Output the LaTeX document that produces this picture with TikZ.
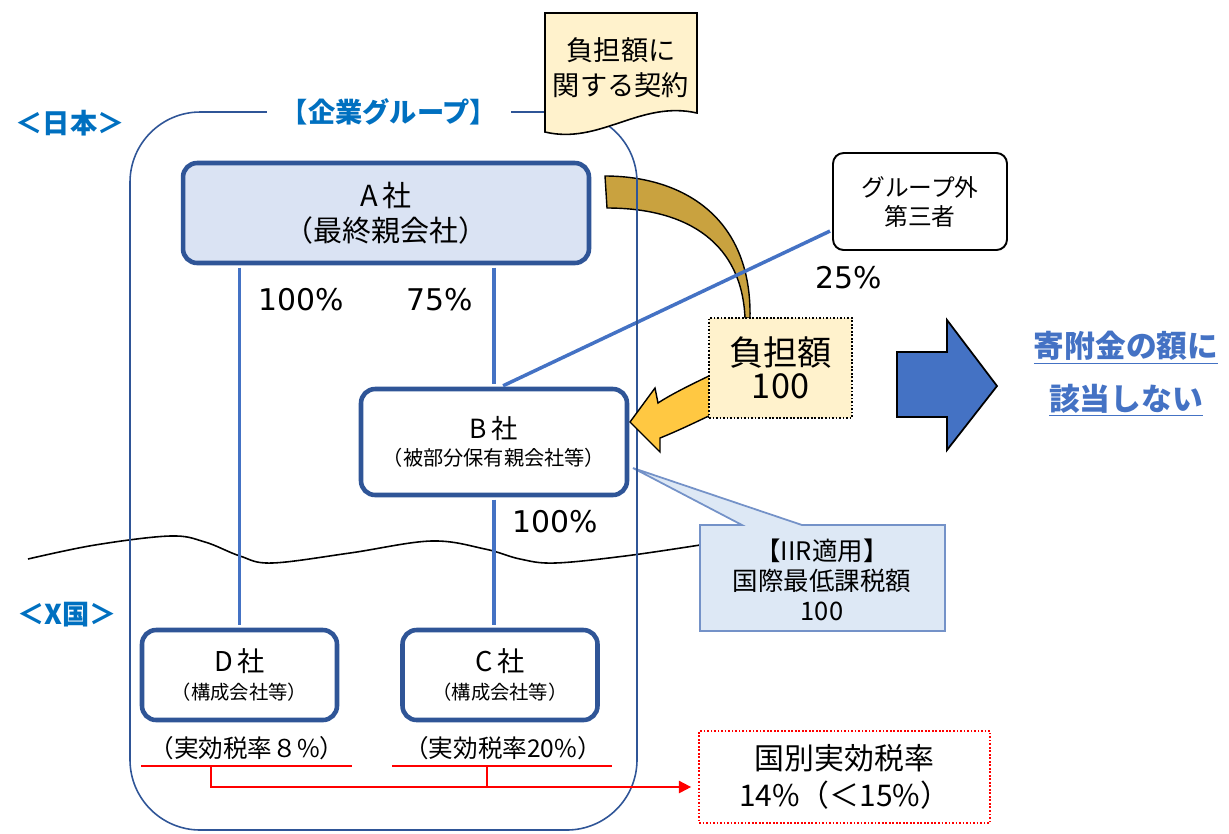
\documentclass[tikz,border=0pt]{standalone}
\usepackage{fontspec}
\setmainfont{Noto Sans CJK JP}
\newfontfamily\latinfont{DejaVu Sans}
\usetikzlibrary{arrows.meta}
\usepackage{xcolor}
\definecolor{boxblue}{RGB}{47,85,151}
\definecolor{lineblue}{RGB}{68,114,196}
\definecolor{headblue}{RGB}{0,112,192}
\definecolor{paleblue}{RGB}{218,227,243}
\definecolor{calloutblue}{RGB}{221,232,245}
\definecolor{calloutedge}{RGB}{116,146,200}
\definecolor{paleyellow}{RGB}{255,242,204}
\definecolor{gold}{RGB}{201,162,63}
\definecolor{sun}{RGB}{255,200,66}

\begin{document}
\begin{tikzpicture}[x=0.02cm,y=-0.02cm,>=Stealth,
	co/.style={draw=boxblue,line width=2.6pt,rounded corners=8pt,fill=white,inner sep=0pt,align=center},
	own/.style={draw=lineblue,line width=2pt,shorten <=1.3pt,shorten >=1.3pt},
	pct/.style={font=\latinfont\fontsize{17}{20}\selectfont},
	region/.style={text=headblue,font=\fontsize{15.5}{18}\selectfont\bfseries},
	redln/.style={draw=red,line width=1.1pt}]
	\useasboundingbox (0,0) rectangle (1229,833);
	% border between Japan and country X
	\draw[line width=0.9pt] plot[smooth,tension=0.6] coordinates {(28,559) (95,545) (170,536) (205,542) (240,556) (272,563) (350,553) (431,541) (485,549) (520,559) (555,563) (625,556) (700,545)};

	\node[co,fill=paleblue,minimum width=8.12cm,minimum height=2cm,font=\fontsize{16.5}{20}\selectfont] (A) at (386,213) {A\,社\\（最終親会社）};
	\node[co,minimum width=5.32cm,minimum height=2.12cm,font=\fontsize{15}{15.5}\selectfont] (B) at (494,442) {B\,社\\{\fontsize{11.5}{15}\selectfont（被部分保有親会社等）}};
	\foreach \n/\c/\p/\x in {D/239.5/８/247,C/500/20/503} {
		\node[co,minimum width=3.9cm,minimum height=1.8cm,font=\fontsize{15.5}{16}\selectfont] (\n) at (\c,675) {{\n}\,社\\{\fontsize{11}{15}\selectfont（構成会社等）}};
		\node[font=\fontsize{14}{16}\selectfont] (r\n) at (\x,748) {（実効税率\p\%）};
	};
	\draw[own] (D.north |- A.south) -- (D.north);
	\draw[own] (B.north |- A.south) -- (B.north);
	\draw[own] (B.south) -- (B.south |- C.north);

	\node[draw,line width=1.1pt,rounded corners=6pt,inner sep=0pt,align=center,minimum width=3.48cm,minimum height=1.94cm,
		font=\fontsize{13.5}{16.5}\selectfont] (out) at (920,201.5) {グループ外\\第三者};

	% payment arrows
	\draw[fill=gold,line width=0.8pt] (605,176) .. controls (680,176) and (752,215) .. (750,318)
		-- (745,318) .. controls (742,245) and (690,208) .. (607,208) -- cycle;
	\draw[own] ([xshift=4pt]B.north) -- (out.198);

	% IIR callout
	\draw[draw=calloutedge,fill=calloutblue,line width=1pt] (700,525) -- (742,525) -- (633,468) -- (802,525)
		-- (945,525) -- (945,631) -- (700,631) -- cycle;
	\node[align=center,font=\fontsize{14.5}{17}\selectfont] (iir) at (822,580) {【IIR適用】\\国際最低課税額\\100};

	% group frame
	\draw[draw=boxblue,line width=0.9pt,rounded corners=40pt] (130,112) rectangle (637,830);
	\node[fill=white,inner xsep=8pt,inner ysep=2pt,text=headblue,font=\fontsize{15.5}{17}\selectfont\bfseries] (grp) at (389,112) {【企業グループ】};
	\draw[fill=paleyellow,line width=0.9pt] (545,13) -- (697,13) -- (697,113) .. controls (640,100) and (600,145) .. (545,132) -- cycle;
	\node[align=center,font=\fontsize{15.5}{20}\selectfont] (doc) at (621,68) {負担額に\\関する契約};

	\draw[fill=sun,line width=0.8pt] (711,375) .. controls (690,385) and (670,395) .. (658,403) -- (655,388)
		-- (630,422) -- (660,452) -- (660,438) .. controls (680,430) and (700,420) .. (711,415) -- cycle;
	\node[draw,densely dotted,line width=1pt,fill=paleyellow,inner sep=0pt,align=center,minimum width=2.86cm,minimum height=2cm,
		font=\fontsize{19.5}{19}\selectfont] (cost) at (780.5,368) {負担額\\100};

	\node[region] (jp) at (70,123) {＜日本＞};
	\node[region] (xc) at (67,615) {＜X国＞};

	\node[pct] (pAD) at (301,300) {100\%};
	\node[pct] (pAB) at (440,300) {75\%};
	\node[pct] (pBC) at (555,522) {100\%};
	\node[pct] (pOB) at (849,278) {25\%};

	% effective tax rate
	\draw[redln] (141,766) -- (352,766);
	\draw[redln] (392,766) -- (612,766);
	\coordinate (uD) at (211,766);
	\coordinate (uC) at (487,766);
	\coordinate (jn) at (487,787);
	\node[draw=red,densely dotted,line width=1pt,inner sep=0pt,align=center,minimum width=5.82cm,minimum height=1.84cm,
		font=\fontsize{17}{21}\selectfont] (rate) at (844.5,777) {国別実効税率\\14\%（＜15\%）};
	\draw[redln] (uC) -- (jn);
	\draw[redln,-{Triangle[length=7pt,width=7pt]},shorten >=4pt] (uD) |- (jn -| rate.west);

	\draw[fill=lineblue,line width=1pt] (897,352) -- (947,352) -- (947,320) -- (997,386) -- (947,450) -- (947,417) -- (897,417) -- cycle;
	\node[align=center,text=lineblue,font=\fontsize{17.5}{30}\selectfont\bfseries] (res) at (1126,374) {\underline{寄附金の額に}\\\underline{該当しない}};
\end{tikzpicture}
\end{document}
